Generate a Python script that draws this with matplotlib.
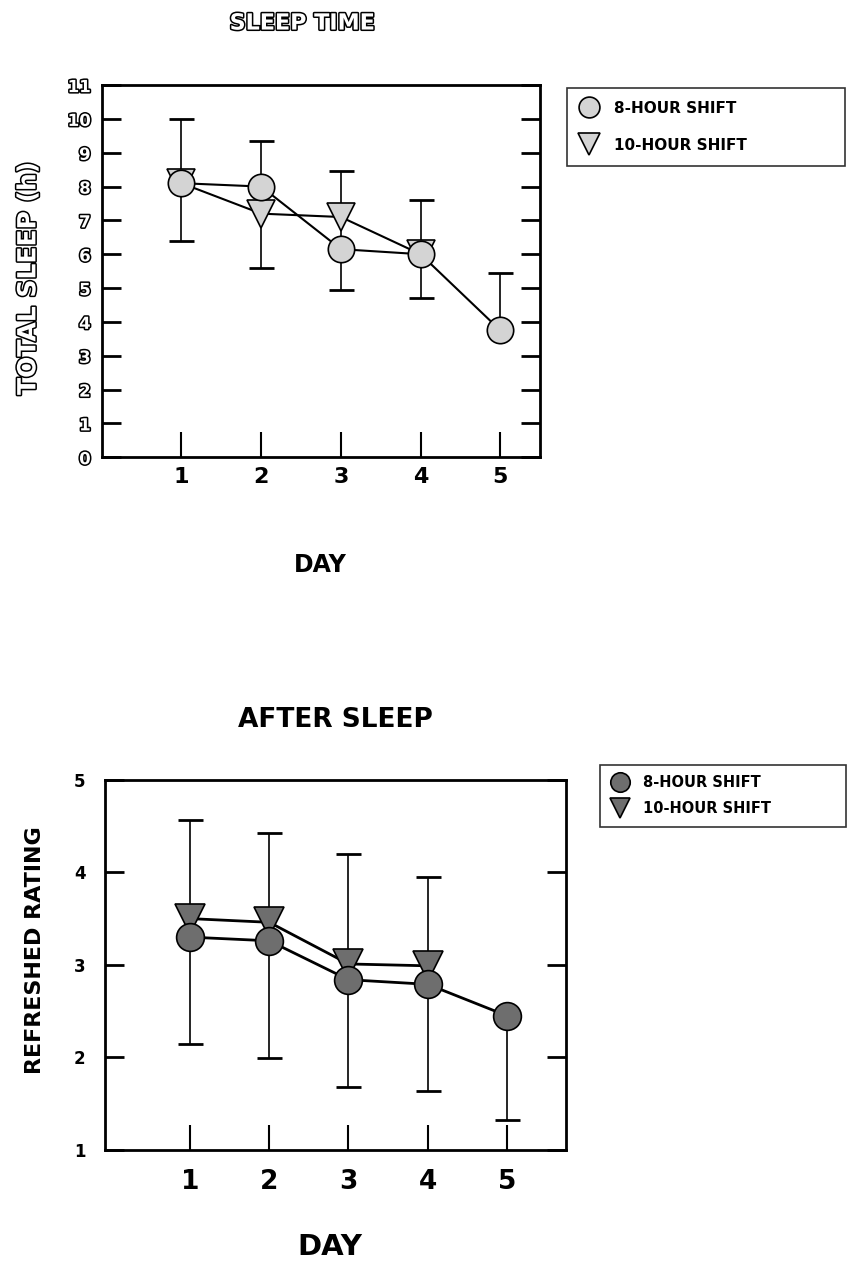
import matplotlib
matplotlib.use('Agg')
import matplotlib.pyplot as plt
import matplotlib.patheffects as pe
from matplotlib.lines import Line2D
import numpy as np

plt.rcParams['font.family'] = ['DejaVu Sans']
plt.rcParams['font.weight'] = 'bold'
plt.rcParams['axes.labelweight'] = 'bold'
plt.rcParams['axes.titleweight'] = 'bold'

days = [1, 2, 3, 4, 5]
days10 = [1, 2, 3, 4]

# sleep time (hours)
sleep_8h = [8.1, 8.0, 6.15, 6.0, 3.75]
sleep_10h = [8.1, 7.2, 7.1, 6.0]
sleep_err_hi = [10.0, 9.35, 8.45, 7.6, 5.45]
sleep_err_lo = [6.4, 5.6, 4.95, 4.7, 3.75]

# refreshed rating after sleep
fresh_8h = [3.30, 3.26, 2.84, 2.79, 2.45]
fresh_10h = [3.50, 3.46, 3.01, 2.99]
fresh_err_hi = [4.57, 4.42, 4.20, 3.95, 2.45]
fresh_err_lo = [2.14, 1.99, 1.68, 1.64, 1.32]

labels = ['8-HOUR SHIFT', '10-HOUR SHIFT']

fig = plt.figure(figsize=(8.48, 12.7), dpi=100)
outline = [pe.withStroke(linewidth=2.2, foreground='black')]


def panel(ax, y8, y10, lo, hi, fill, lw, ms):
    mid = (np.array(lo) + np.array(hi)) / 2
    err = (np.array(hi) - np.array(lo)) / 2
    ax.errorbar(days, mid, yerr=err, fmt='none', ecolor='black',
                elinewidth=1.2, capsize=9, capthick=2, zorder=1)
    ax.plot(days, y8, '-', color='black', lw=lw, marker='o', ms=ms,
            mfc=fill, mec='black', mew=1.2, zorder=3)
    ax.plot(days10, y10, '-', color='black', lw=lw, marker='v', ms=ms + 1,
            mfc=fill, mec='black', mew=1.2, zorder=2)
    for s in ax.spines.values():
        s.set_linewidth(2)
    ax.tick_params(axis='y', direction='in', length=14, width=2,
                   right=True, labelright=False)
    ax.tick_params(axis='x', direction='in', length=18, width=1.5,
                   labelsize=16)


def legend(ax, fill, x0, top, w, fs, ms, spacing, bpad):
    handles = [Line2D([], [], ls='none', marker='o', ms=ms, mfc=fill,
                      mec='black', mew=1.2),
               Line2D([], [], ls='none', marker='v', ms=ms + 1, mfc=fill,
                      mec='black', mew=1.2)]
    ax.legend(handles, labels, loc='upper left', mode='expand',
              bbox_to_anchor=(x0, top - 0.1, w, 0.1),
              bbox_transform=fig.transFigure, frameon=True, fancybox=False,
              edgecolor='black', fontsize=fs, handlelength=1.2,
              handletextpad=1.0, borderpad=bpad, labelspacing=spacing,
              borderaxespad=0).get_frame().set_linewidth(1.2)


# top panel: sleep time
ax1 = fig.add_axes([0.120, 0.640, 0.517, 0.293])
panel(ax1, sleep_8h, sleep_10h, sleep_err_lo, sleep_err_hi, '#d4d4d4', 1.5, 19)
ax1.set_xlim(0, 5.5)
ax1.set_ylim(0, 11)
ax1.set_xticks(days)
ax1.set_yticks(range(0, 12))
ax1.tick_params(axis='y', labelsize=12, pad=8)
ax1.tick_params(axis='x', pad=7)
ax1.set_ylabel('TOTAL SLEEP (h)', fontsize=18, color='white',
               path_effects=outline)
ax1.yaxis.set_label_coords(-0.14, 0.48)
ax1.set_xlabel('DAY', fontsize=17)
ax1.xaxis.set_label_coords(0.498, -0.258)
ax1.set_title('SLEEP TIME', fontsize=16, pad=40, x=0.457, color='white',
              path_effects=outline)
for t in ax1.get_yticklabels():
    t.set_color('white')
    t.set_path_effects(outline)
legend(ax1, '#d4d4d4', 0.669, 0.931, 0.328, 11, 15, 1.45, 0.85)

# bottom panel: after sleep
ax2 = fig.add_axes([0.124, 0.0945, 0.544, 0.2915])
panel(ax2, fresh_8h, fresh_10h, fresh_err_lo, fresh_err_hi, '#6e6e6e', 2, 20)
ax2.set_xlim(-0.07, 5.75)
ax2.set_ylim(1, 5)
ax2.set_xticks(days)
ax2.set_yticks([1, 2, 3, 4, 5])
ax2.tick_params(axis='y', labelsize=12, pad=14)
ax2.tick_params(axis='x', labelsize=19, pad=14)
ax2.set_ylabel('REFRESHED RATING', fontsize=16)
ax2.yaxis.set_label_coords(-0.130, 0.54)
ax2.set_xlabel('DAY', fontsize=21)
ax2.xaxis.set_label_coords(0.488, -0.224)
ax2.set_title('AFTER SLEEP', fontsize=19, pad=38)
legend(ax2, '#6e6e6e', 0.708, 0.398, 0.290, 10.5, 14, 0.75, 0.75)

fig.savefig('out.png', dpi=100)
